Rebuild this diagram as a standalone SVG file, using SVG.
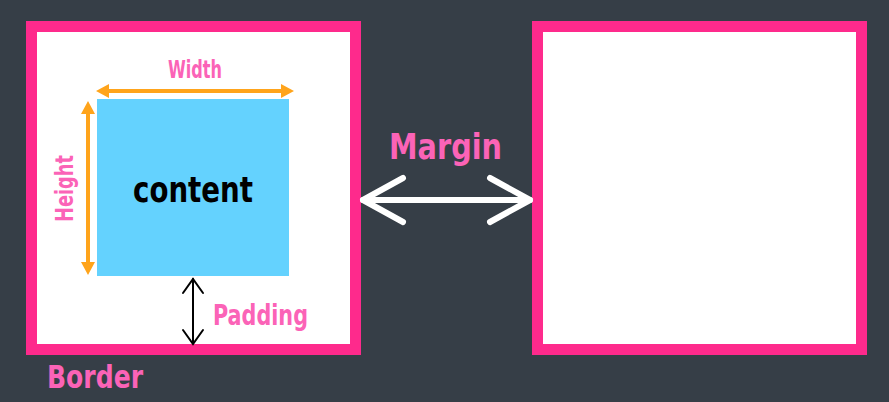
<svg xmlns="http://www.w3.org/2000/svg" width="889" height="402" viewBox="0 0 889 402">
<style>
.box{fill:#ffffff;stroke:#fe2a8c;stroke-width:11}
.lbl{font-family:"DejaVu Sans Condensed","DejaVu Sans","Liberation Sans",sans-serif;font-stretch:condensed;font-weight:bold;fill:#fb63b7}
.dark{fill:#000000}
.orange{stroke:#ffa41b;stroke-width:4;fill:none}
</style>
<rect width="889" height="402" fill="#363e47"/>
<g id="box-left">
<rect class="box" x="31.5" y="26.5" width="324" height="323"/>
</g>
<g id="box-right">
<rect class="box" x="537.5" y="26.5" width="324" height="323"/>
</g>
<g id="content">
<rect x="97" y="99" width="192" height="177" fill="#64d2fe"/>
<text class="lbl dark" x="133" y="202" font-size="35" textLength="120" lengthAdjust="spacingAndGlyphs">content</text>
</g>
<g id="connectors">
<line class="orange" x1="103" y1="91" x2="287" y2="91"/>
<path d="M96,91 l13,-7 l0,14 Z M294,91 l-13,-7 l0,14 Z" fill="#ffa41b"/>
<line class="orange" x1="88" y1="108" x2="88" y2="268"/>
<path d="M88,101 l-7,13 l14,0 Z M88,275 l-7,-13 l14,0 Z" fill="#ffa41b"/>
<g stroke="#000" stroke-width="2" fill="none" stroke-linecap="round">
<line x1="193" y1="279" x2="193" y2="343"/>
<path d="M183,293 L193,279 L203,293 M183,330 L193,344 L203,330"/>
</g>
<g stroke="#ffffff" stroke-width="6" fill="none" stroke-linecap="round" stroke-linejoin="round">
<line x1="363" y1="200" x2="530" y2="200"/>
<path d="M403,178 L363,200 L403,222 M490,178 L530,200 L490,222"/>
</g>
</g>
<g id="labels">
<text class="lbl" x="168" y="78" font-size="25" textLength="54" lengthAdjust="spacingAndGlyphs">Width</text>
<text class="lbl" transform="translate(73,222) rotate(-90)" x="0" y="0" font-size="25" textLength="67" lengthAdjust="spacingAndGlyphs">Height</text>
<text class="lbl" x="213" y="325" font-size="28" textLength="95" lengthAdjust="spacingAndGlyphs">Padding</text>
<text class="lbl" x="47" y="388" font-size="32" textLength="96" lengthAdjust="spacingAndGlyphs">Border</text>
<text class="lbl" x="389" y="159" font-size="36" textLength="113" lengthAdjust="spacingAndGlyphs">Margin</text>
</g>
</svg>
